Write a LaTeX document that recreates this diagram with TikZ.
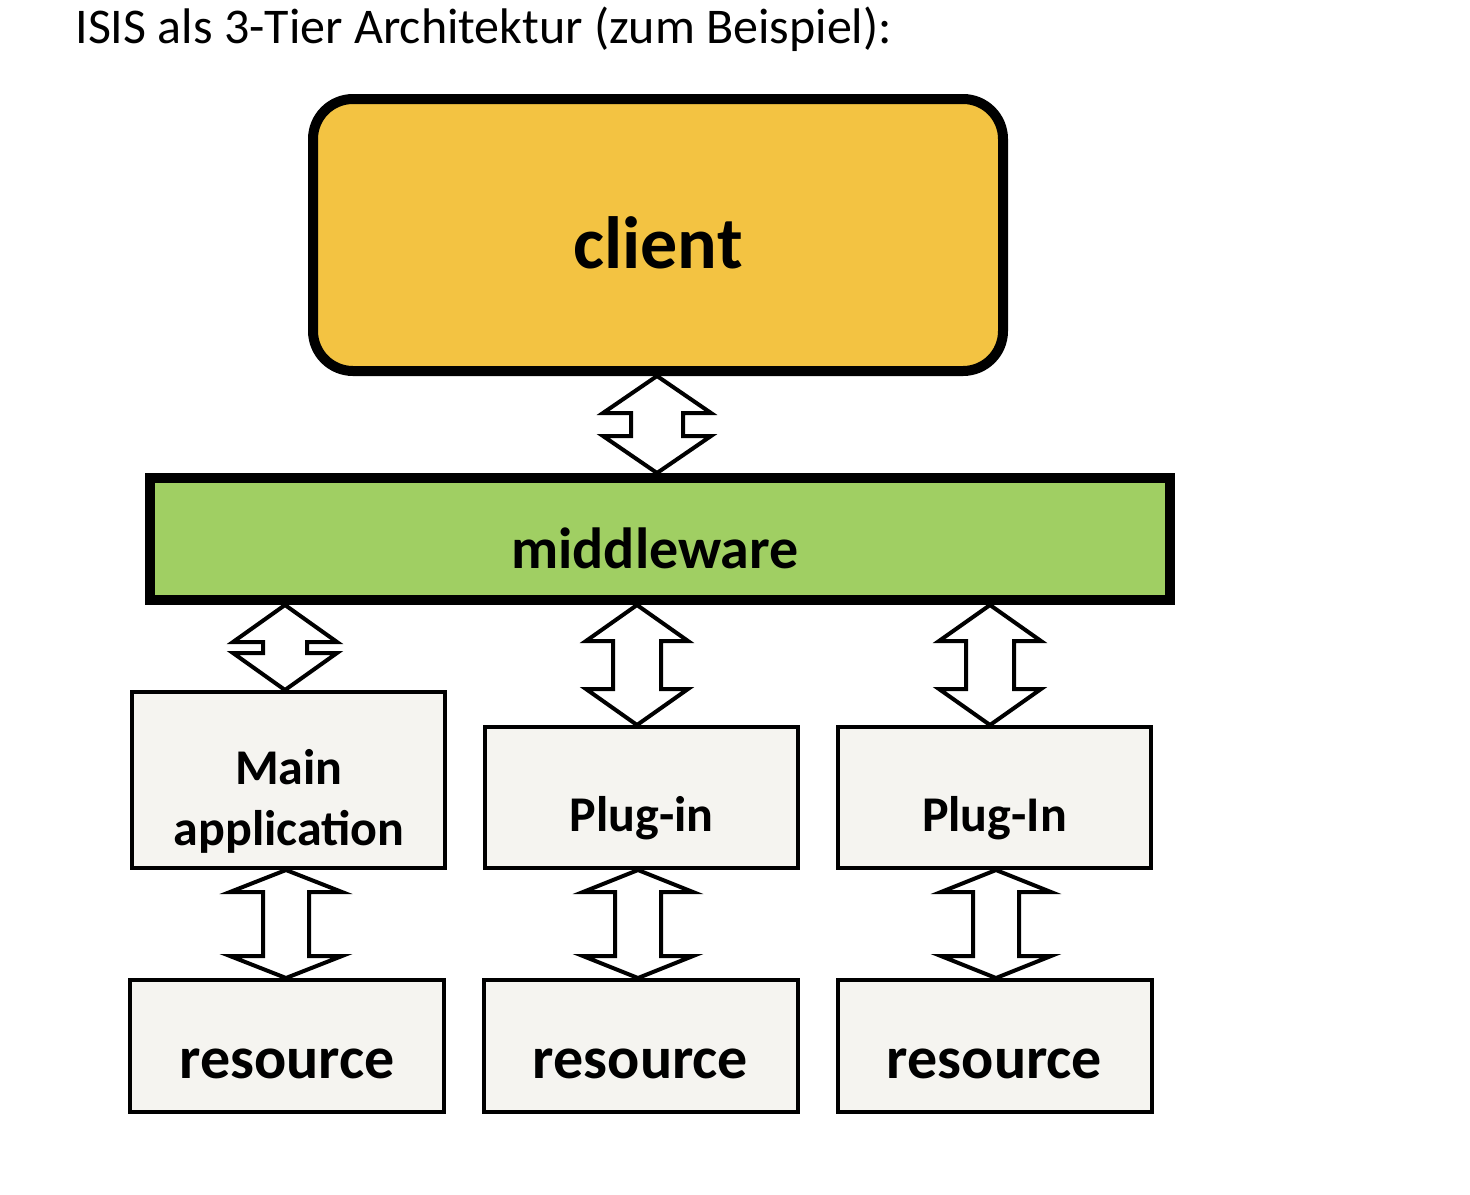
\documentclass[tikz,border=0pt]{standalone}
\usepackage{fontspec}
\setmainfont{Carlito}
\usetikzlibrary{calc}
\definecolor{clientc}{HTML}{F3C342}
\definecolor{midc}{HTML}{A0CF63}
\definecolor{boxc}{HTML}{F5F4F0}
\tikzset{
  bigbox/.style={draw=black, line width=5pt, inner sep=0pt},
  smallbox/.style={draw=black, line width=2pt, fill=boxc, inner sep=0pt},
  lbl/.style={anchor=base, inner sep=0pt, font=\bfseries},
  arr/.style={draw=black, line width=2pt, fill=white, line join=miter},
}
% #1 top coord, #2 bottom coord, #3 half width, #4 shaft half width, #5 head height (pt)
\newcommand\dblarrow[5]{%
  \path[arr] let \p1=#1, \p2=#2 in
    (\x1,\y1) -- (\x1+#3,\y1-#5) -- (\x1+#4,\y1-#5) -- (\x1+#4,\y2+#5) -- (\x1+#3,\y2+#5)
    -- (\x1,\y2) -- (\x1-#3,\y2+#5) -- (\x1-#4,\y2+#5) -- (\x1-#4,\y1-#5) -- (\x1-#3,\y1-#5) -- cycle;}
\begin{document}
\begin{tikzpicture}[x=0.5pt,y=-0.5pt]
\useasboundingbox (0,0) rectangle (1470,1194);
\node[anchor=base west, inner sep=0pt, font=\fontsize{25}{30}\selectfont] (title) at (75,43) {ISIS als 3-Tier Architektur (zum Beispiel):};
% boxes
\node[bigbox, fill=clientc, rounded corners=20pt, minimum width=345pt, minimum height=136pt] (client) at (658,235) {};
\node[bigbox, fill=midc, minimum width=510pt, minimum height=61pt] (mw) at (660,539) {};
\node[smallbox, minimum width=156.5pt, minimum height=88pt] (ma) at (288.5,780) {};
\node[smallbox, minimum width=156.5pt, minimum height=70.5pt] (pi) at (641.5,797.5) {};
\node[smallbox, minimum width=156.5pt, minimum height=70.5pt] (pI) at (994.5,797.5) {};
\node[smallbox, minimum width=157pt, minimum height=66pt] (r1) at (287,1046) {};
\node[smallbox, minimum width=157pt, minimum height=66pt] (r2) at (640.5,1046) {};
\node[smallbox, minimum width=157pt, minimum height=66pt] (r3) at (994.5,1046) {};
% labels
\node[lbl, font=\bfseries\fontsize{37}{44}\selectfont] (tclient) at (658,268) {client};
\node[lbl, font=\bfseries\fontsize{29}{35}\selectfont] (tmw) at (655,568) {middleware};
\node[lbl, font=\bfseries\fontsize{25}{30}\selectfont] (tma1) at (289,784) {Main};
\node[lbl, font=\bfseries\fontsize{25}{30}\selectfont] (tma2) at (289,845) {application};
\node[lbl, font=\bfseries\fontsize{25}{30}\selectfont] (tpi) at (641.5,831) {Plug-in};
\node[lbl, font=\bfseries\fontsize{25}{30}\selectfont] (tpI) at (994.5,831) {Plug-In};
\node[lbl, font=\bfseries\fontsize{30}{36}\selectfont] (tr1) at (287,1078) {resource};
\node[lbl, font=\bfseries\fontsize{30}{36}\selectfont] (tr2) at (640.5,1078) {resource};
\node[lbl, font=\bfseries\fontsize{30}{36}\selectfont] (tr3) at (994.5,1078) {resource};
% arrows
\coordinate (a1) at (657,0);
\coordinate (a2) at (285,0);
\coordinate (a3) at (637,0);
\coordinate (a4) at (990,0);
\coordinate (b1) at (286,0);
\coordinate (b2) at (638,0);
\coordinate (b3) at (996,0);
\dblarrow{(a1 |- client.south)}{(a1 |- mw.north)}{27pt}{13pt}{18.5pt}
\dblarrow{(a2 |- mw.south)}{(a2 |- ma.north)}{26pt}{11pt}{18.5pt}
\dblarrow{(a3 |- mw.south)}{(a3 |- pi.north)}{25.5pt}{12pt}{18pt}
\dblarrow{(a4 |- mw.south)}{(a4 |- pI.north)}{25.5pt}{12pt}{18pt}
\dblarrow{(b1 |- ma.south)}{(b1 |- r1.north)}{28pt}{11.5pt}{11pt}
\dblarrow{(b2 |- pi.south)}{(b2 |- r2.north)}{27.5pt}{11.5pt}{11pt}
\dblarrow{(b3 |- pI.south)}{(b3 |- r3.north)}{27.5pt}{11.5pt}{11pt}
\end{tikzpicture}
\end{document}
